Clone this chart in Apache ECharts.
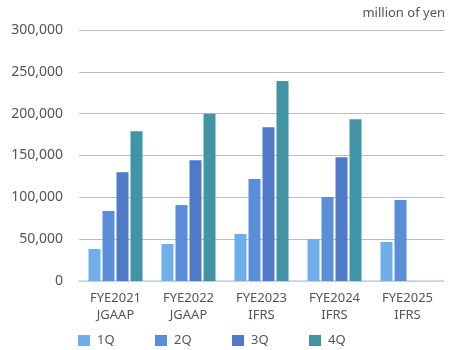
<!DOCTYPE html>
<html><head><meta charset="utf-8">
<script src="https://cdn.jsdelivr.net/npm/echarts@6/dist/echarts.min.js"></script>
<style>html,body{margin:0;padding:0;background:#fff}#c{width:460px;height:350px}</style>
</head><body><div id="c"></div>
<script>
var categories = ['FYE2021\nJGAAP', 'FYE2022\nJGAAP', 'FYE2023\nIFRS', 'FYE2024\nIFRS', 'FYE2025\nIFRS'];
var seriesNames = ['1Q', '2Q', '3Q', '4Q'];
var q1 = [38200, 44200, 56200, 50200, 46600];
var q2 = [83700, 90800, 121800, 100400, 96800];
var q3 = [130100, 144400, 183700, 148000, null];
var q4 = [178900, 200000, 239000, 193200, null];
var colors = ['#6FAEE8', '#5B8ED8', '#4E7AC8', '#4193A6'];
var unitLabel = 'million of yen';

var font = '"Noto Sans", sans-serif';
var chart = echarts.init(document.getElementById('c'), null, {renderer: 'canvas'});
var data = [q1, q2, q3, q4];
chart.setOption({
  animation: false,
  color: colors,
  title: {text: unitLabel, right: 10, top: 2, textStyle: {fontSize: 13, fontWeight: 'normal', color: '#555', fontFamily: font}},
  grid: {left: 79, right: 16, top: 30, bottom: 69, containLabel: false},
  legend: seriesNames.map(function (n, i) {
    return {
      left: 73 + 77 * i, top: 329, itemWidth: 12, itemHeight: 11, itemGap: 0, icon: 'rect',
      textStyle: {fontSize: 13, color: '#555', fontFamily: font, padding: [5, 0, 0, 2]},
      data: [n]
    };
  }),
  xAxis: {
    type: 'category', data: categories,
    axisLine: {lineStyle: {color: '#C8D3E3', width: 1.5}},
    axisTick: {show: false},
    axisLabel: {color: '#555', fontSize: 13, fontFamily: font, lineHeight: 17, margin: 9}
  },
  yAxis: {
    type: 'value', min: 0, max: 300000, interval: 50000,
    axisLine: {show: false}, axisTick: {show: false},
    splitLine: {lineStyle: {color: '#BDBDBD', width: 1}},
    axisLabel: {color: '#555', fontSize: 14, fontFamily: font, margin: 16,
      formatter: function (v) { return v.toLocaleString('en-US'); }}
  },
  series: seriesNames.map(function (n, i) {
    return {name: n, type: 'bar', data: data[i], barWidth: 12, barGap: '16.7%'};
  })
});
</script></body></html>
